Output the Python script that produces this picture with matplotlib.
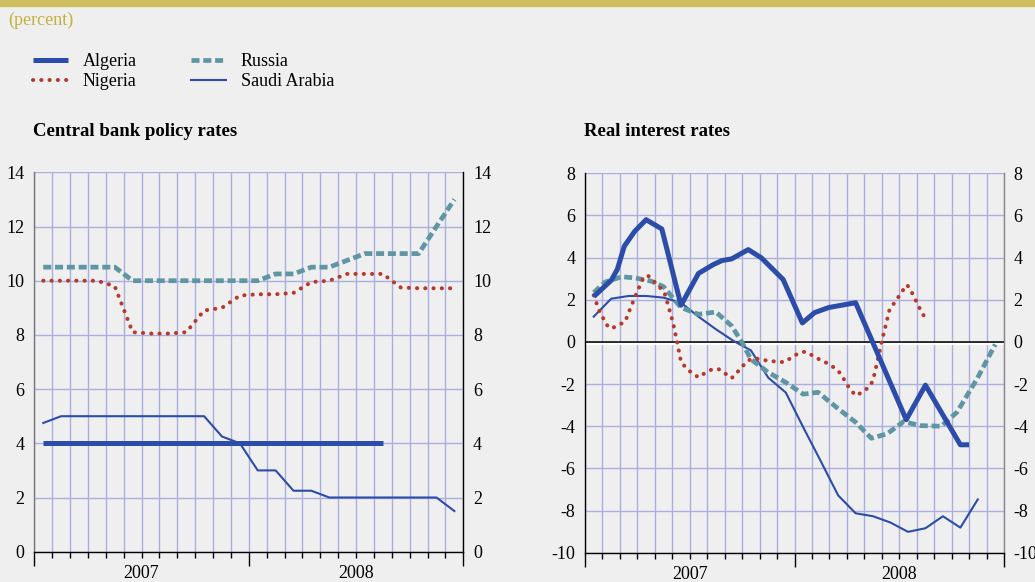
import matplotlib.pyplot as plt
import matplotlib.patches as mpatches
from matplotlib.lines import Line2D
from matplotlib.ticker import FixedLocator, FixedFormatter

plt.rcParams['font.family'] = ['Liberation Serif', 'DejaVu Serif']
plt.rcParams['axes.unicode_minus'] = False

# months counted from Jan 2007 (0) to Dec 2008 (23)
months = list(range(24))
years = ['2007', '2008']

# Central bank policy rates (percent)
algeria_policy = [4.0, 4.0, 4.0, 4.0, 4.0, 4.0, 4.0, 4.0, 4.0, 4.0,
                  4.0, 4.0, 4.0, 4.0, 4.0, 4.0, 4.0, 4.0, 4.0, 4.0]
nigeria_policy = [10.0, 10.0, 10.0, 10.0, 9.8, 8.1, 8.05, 8.05, 8.1, 8.9, 9.0, 9.45,
                  9.5, 9.5, 9.55, 9.95, 10.0, 10.25, 10.25, 10.25, 9.75, 9.72, 9.72, 9.72]
russia_policy = [10.5, 10.5, 10.5, 10.5, 10.5, 10.0, 10.0, 10.0, 10.0, 10.0, 10.0, 10.0,
                 10.0, 10.25, 10.25, 10.5, 10.5, 10.75, 11.0, 11.0, 11.0, 11.0, 12.0, 13.0]
saudi_policy = [4.75, 5.0, 5.0, 5.0, 5.0, 5.0, 5.0, 5.0, 5.0, 5.0, 4.25, 4.0,
                3.0, 3.0, 2.25, 2.25, 2.0, 2.0, 2.0, 2.0, 2.0, 2.0, 2.0, 1.5]

# Real interest rates (percent)
algeria_real_t = [0, 1, 1.35, 1.75, 2.35, 3, 3.9, 5, 6, 6.85, 7.35, 7.9, 8.85, 9.6,
                  10.85, 11.95, 12.65, 13.45, 15, 17.9, 19, 21, 21.5]
algeria_real = [2.15, 2.92, 3.44, 4.54, 5.25, 5.8, 5.36, 1.74, 3.25, 3.67, 3.86, 3.94, 4.38, 3.99,
                2.96, 0.9, 1.39, 1.63, 1.86, -3.69, -2.05, -4.88, -4.88]
nigeria_real_t = [0, 0.3, 0.5, 0.7, 1.0, 1.4, 1.8, 2.1, 2.5, 2.85, 3.1, 3.4, 3.75, 4.05, 4.3,
                  4.55, 4.8, 5.0, 5.3, 5.6, 6.0, 6.4, 6.8, 7.15, 7.5, 7.9, 8.2, 8.5, 8.8,
                  9.15, 9.55, 10.0, 10.45, 10.9, 11.3, 11.7, 12.1, 12.5, 12.9, 13.3, 13.7,
                  14.05, 14.3, 14.55, 14.8, 15.05, 15.45, 15.8, 16.0, 16.2, 16.5, 16.7,
                  16.95, 17.2, 17.45, 17.7, 17.95, 18.2, 18.4, 18.6, 18.9]
nigeria_real = [2.21, 1.51, 1.2, 0.84, 0.63, 0.79, 0.96, 1.6, 2.4, 3.05, 3.15, 2.92, 2.62,
                2.34, 1.63, 0.88, -0.1, -0.95, -1.24, -1.46, -1.68, -1.46, -1.29, -1.29,
                -1.48, -1.72, -1.46, -1.18, -0.9, -0.77, -0.82, -0.9, -0.93, -0.96, -0.76,
                -0.55, -0.46, -0.63, -0.82, -0.98, -1.18, -1.42, -1.73, -2.08, -2.36, -2.55,
                -2.33, -2.13, -1.81, -1.09, 0.02, 0.7, 1.55, 1.83, 2.13, 2.44, 2.71, 2.38,
                2.05, 1.7, 1.25]
russia_real_t = [0, 0.65, 1.6, 2.35, 3.3, 4, 5, 6, 7, 7.9, 8.5, 9, 10, 11, 12, 12.85, 13.9,
                 15, 15.9, 16.8, 17.75, 18.7, 19.9, 20.8, 21.95, 23]
russia_real = [2.34, 2.84, 3.09, 3.04, 2.88, 2.62, 1.63, 1.31, 1.42, 0.76, -0.03, -0.82,
               -1.45, -1.92, -2.48, -2.39, -3.10, -3.81, -4.57, -4.36, -3.78, -3.97, -4.0,
               -3.34, -1.76, -0.12]
saudi_real = [1.2, 2.05, 2.18, 2.18, 2.1, 1.86, 1.2, 0.6, 0.05, -0.4, -1.7, -2.4, -4.05,
              -5.65, -7.28, -8.13, -8.27, -8.57, -9.01, -8.84, -8.27, -8.81, -7.47]

BLUE = '#2b4ca8'
RED = '#b53a2c'
TEAL = '#5f96a3'
GRID = '#a9addf'
GOLD = '#cdbf5f'
BG = '#efefef'

fig = plt.figure(figsize=(10.35, 5.82), dpi=100, facecolor=BG)

# golden band on top
fig.patches.append(mpatches.Rectangle((0, 1 - 6 / 582), 1, 6 / 582, transform=fig.transFigure,
                                      color=GOLD, zorder=0))
fig.text(8 / 1035, 1 - 20 / 582, '(percent)', color='#c2b13c', fontsize=13, va='center')

fig.text(33 / 1035, 1 - 131 / 582, 'Central bank policy rates', fontsize=13.5,
         fontweight='bold', va='center')
fig.text(584 / 1035, 1 - 131 / 582, 'Real interest rates', fontsize=13.5,
         fontweight='bold', va='center')

ax1 = fig.add_axes([34.3 / 1035, 1 - 551.7 / 582, 429 / 1035, 379.4 / 582])
ax2 = fig.add_axes([585 / 1035, 1 - 552.7 / 582, 419 / 1035, 379.4 / 582])

style = {
    'Algeria': dict(color=BLUE, lw=3.6, solid_capstyle='butt'),
    'Nigeria': dict(color=RED, lw=2.9, linestyle=(0, (0.05, 2.0)), dash_capstyle='round'),
    'Russia': dict(color=TEAL, lw=3.4, linestyle=(0, (1.7, 0.8)), dash_capstyle='butt'),
    'Saudi Arabia': dict(color=BLUE, lw=1.5),
}

ax1.plot(months[:len(algeria_policy)], algeria_policy, **style['Algeria'])
ax1.plot(months, russia_policy, **style['Russia'])
ax1.plot(months, nigeria_policy, **style['Nigeria'])
ax1.plot(months, saudi_policy, **style['Saudi Arabia'])

ax2.axhline(-0.08, color='white', lw=1.6, zorder=1.5)
ax2.axhline(0.02, color='black', lw=1.1, zorder=1.6)
ax2.plot(months[:len(saudi_real)], saudi_real, **style['Saudi Arabia'])
ax2.plot(russia_real_t, russia_real, **style['Russia'])
ax2.plot(nigeria_real_t, nigeria_real, **style['Nigeria'])
ax2.plot(algeria_real_t, algeria_real, **style['Algeria'])

ax1.set_ylim(0, 14)
ax1.set_yticks(range(0, 15, 2))
ax2.set_ylim(-10, 8)
ax2.set_yticks(range(-10, 9, 2))

bounds = [m - 0.5 for m in months] + [23.5]
for ax, lspine, rspine in [(ax1, '#777777', 'black'), (ax2, 'black', '#888888')]:
    ax.set_facecolor(BG)
    ax.set_xlim(-0.5, 23.5)
    ax.set_axisbelow(True)
    ax.xaxis.set_major_locator(FixedLocator([-0.5, 11.5, 23.5]))
    ax.xaxis.set_major_formatter(FixedFormatter(['', '', '']))
    minor = [b for b in bounds if b not in (-0.5, 11.5, 23.5)]
    ax.xaxis.set_minor_locator(FixedLocator(minor))
    ax.xaxis.set_minor_formatter(FixedFormatter(
        [years[0] if b == 5.5 else years[1] if b == 17.5 else '' for b in minor]))
    ax.tick_params(axis='x', which='major', length=10, width=1, direction='out')
    ax.tick_params(axis='x', which='minor', length=4.5, width=1, direction='out',
                   labelsize=13, pad=5)
    ax.tick_params(axis='y', left=False, right=False, labelleft=True, labelright=True,
                   labelsize=13, pad=3.5)
    ax.grid(True, which='both', axis='x', color=GRID, lw=1)
    ax.grid(True, which='major', axis='y', color=GRID, lw=1)
    ax.spines['top'].set_visible(False)
    ax.spines['left'].set_color(lspine)
    ax.spines['right'].set_color(rspine)
    ax.spines['bottom'].set_color('black')
    for s in ax.spines.values():
        s.set_linewidth(1)

handles = [Line2D([], [], **style[k]) for k in ['Algeria', 'Nigeria', 'Russia', 'Saudi Arabia']]
fig.legend(handles, ['Algeria', 'Nigeria', 'Russia', 'Saudi Arabia'], ncol=2,
           loc='upper left', bbox_to_anchor=(26 / 1035, 1 - 46 / 582), frameon=False,
           fontsize=13, handlelength=1.95, handletextpad=0.8, columnspacing=3.0,
           labelspacing=0.15, borderaxespad=0)

fig.savefig('out.png', dpi=100, facecolor=BG)
